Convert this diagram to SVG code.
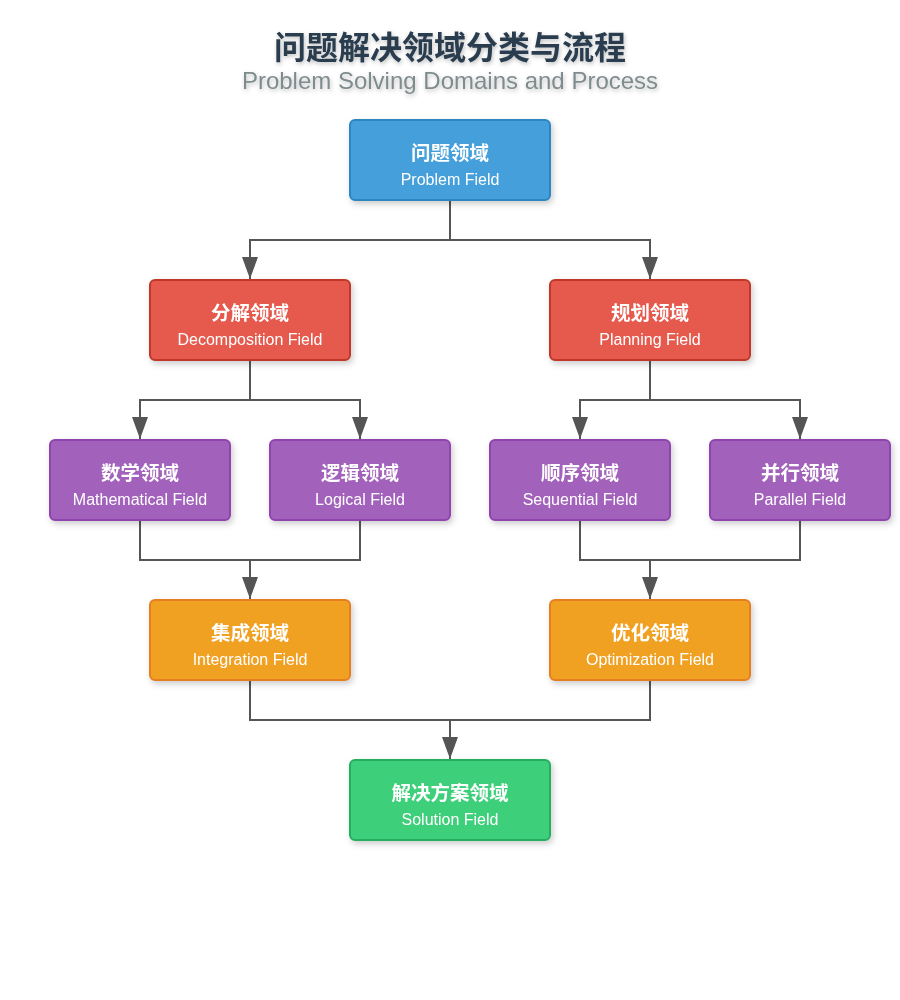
<svg xmlns="http://www.w3.org/2000/svg" width="900" height="1000" viewBox="0 0 900 1000">
<style>
.cn{font-family:"Liberation Sans","Noto Sans CJK SC",sans-serif;font-size:19.5px;font-weight:bold;fill:#fff;text-anchor:middle}
.en{font-family:"Liberation Sans","Noto Sans CJK SC",sans-serif;font-size:16px;fill:#fff;text-anchor:middle}
.box{stroke-width:2}
.blue{fill:#449fdb;stroke:#2e86c1}
.red{fill:#e55a4e;stroke:#c0392b}
.purple{fill:#a262bb;stroke:#8e44ad}
.orange{fill:#f1a124;stroke:#e67e22}
.green{fill:#3ecf7a;stroke:#27ae60}
.line{fill:none;stroke:#555;stroke-width:2}
</style>
<defs>
<filter id="sh" x="-20%" y="-20%" width="140%" height="150%">
<feDropShadow dx="2" dy="3" stdDeviation="3" flood-color="#000" flood-opacity="0.2"/>
</filter>
<filter id="tsh" x="-10%" y="-30%" width="120%" height="160%">
<feDropShadow dx="1" dy="2" stdDeviation="2" flood-color="#000" flood-opacity="0.25"/>
</filter>
<marker id="arr" viewBox="0 0 22 16" refX="22" refY="8" markerWidth="22" markerHeight="16" markerUnits="userSpaceOnUse" orient="auto">
<path d="M0,0 L22,8 L0,16 Z" fill="#555"/>
</marker>
</defs>
<g id="title" filter="url(#tsh)">
<text x="450" y="59" style="font-family:'Liberation Sans','Noto Sans CJK SC',sans-serif;font-size:32px;font-weight:bold;fill:#2c3e50;text-anchor:middle">问题解决领域分类与流程</text>
<text x="450" y="89" style="font-family:'Liberation Sans','Noto Sans CJK SC',sans-serif;font-size:24px;fill:#7f8c8d;text-anchor:middle">Problem Solving Domains and Process</text>
</g>
<g id="connectors">
<path class="line" d="M450,200 V240 H250 V279" marker-end="url(#arr)"/>
<path class="line" d="M450,240 H650 V279" marker-end="url(#arr)"/>
<path class="line" d="M250,360 V400 H140 V439" marker-end="url(#arr)"/>
<path class="line" d="M250,400 H360 V439" marker-end="url(#arr)"/>
<path class="line" d="M650,360 V400 H580 V439" marker-end="url(#arr)"/>
<path class="line" d="M650,400 H800 V439" marker-end="url(#arr)"/>
<path class="line" d="M140,520 V560 H360 V520"/>
<path class="line" d="M250,560 V599" marker-end="url(#arr)"/>
<path class="line" d="M580,520 V560 H800 V520"/>
<path class="line" d="M650,560 V599" marker-end="url(#arr)"/>
<path class="line" d="M250,680 V720 H650 V680"/>
<path class="line" d="M450,720 V759" marker-end="url(#arr)"/>
</g>
<g id="problem" filter="url(#sh)">
<rect class="box blue" x="350" y="120" width="200" height="80" rx="5"/>
<text class="cn" x="450" y="160">问题领域</text>
<text class="en" x="450" y="185">Problem Field</text>
</g>
<g id="decomposition" filter="url(#sh)">
<rect class="box red" x="150" y="280" width="200" height="80" rx="5"/>
<text class="cn" x="250" y="320">分解领域</text>
<text class="en" x="250" y="345">Decomposition Field</text>
</g>
<g id="planning" filter="url(#sh)">
<rect class="box red" x="550" y="280" width="200" height="80" rx="5"/>
<text class="cn" x="650" y="320">规划领域</text>
<text class="en" x="650" y="345">Planning Field</text>
</g>
<g id="mathematical" filter="url(#sh)">
<rect class="box purple" x="50" y="440" width="180" height="80" rx="5"/>
<text class="cn" x="140" y="480">数学领域</text>
<text class="en" x="140" y="505">Mathematical Field</text>
</g>
<g id="logical" filter="url(#sh)">
<rect class="box purple" x="270" y="440" width="180" height="80" rx="5"/>
<text class="cn" x="360" y="480">逻辑领域</text>
<text class="en" x="360" y="505">Logical Field</text>
</g>
<g id="sequential" filter="url(#sh)">
<rect class="box purple" x="490" y="440" width="180" height="80" rx="5"/>
<text class="cn" x="580" y="480">顺序领域</text>
<text class="en" x="580" y="505">Sequential Field</text>
</g>
<g id="parallel" filter="url(#sh)">
<rect class="box purple" x="710" y="440" width="180" height="80" rx="5"/>
<text class="cn" x="800" y="480">并行领域</text>
<text class="en" x="800" y="505">Parallel Field</text>
</g>
<g id="integration" filter="url(#sh)">
<rect class="box orange" x="150" y="600" width="200" height="80" rx="5"/>
<text class="cn" x="250" y="640">集成领域</text>
<text class="en" x="250" y="665">Integration Field</text>
</g>
<g id="optimization" filter="url(#sh)">
<rect class="box orange" x="550" y="600" width="200" height="80" rx="5"/>
<text class="cn" x="650" y="640">优化领域</text>
<text class="en" x="650" y="665">Optimization Field</text>
</g>
<g id="solution" filter="url(#sh)">
<rect class="box green" x="350" y="760" width="200" height="80" rx="5"/>
<text class="cn" x="450" y="800">解决方案领域</text>
<text class="en" x="450" y="825">Solution Field</text>
</g>
</svg>
